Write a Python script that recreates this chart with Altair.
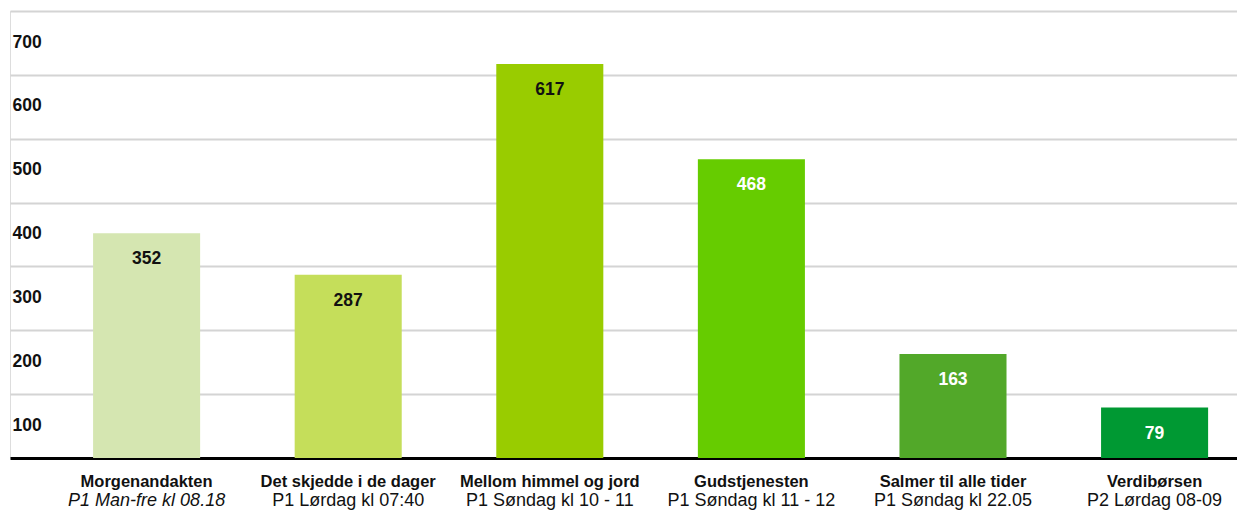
import altair as alt
import pandas as pd

names = ["Morgenandakten", "Det skjedde i de dager", "Mellom himmel og jord",
         "Gudstjenesten", "Salmer til alle tider", "Verdibørsen"]
subtitles = ["P1 Man-fre kl 08.18", "P1 Lørdag kl 07:40", "P1 Søndag kl 10 - 11",
             "P1 Søndag kl 11 - 12", "P1 Søndag kl 22.05", "P2 Lørdag 08-09"]
values = [352, 287, 617, 468, 163, 79]
bar_colors = ["#d5e6b1", "#c5de5a", "#99cc00", "#66cc00", "#52a829", "#009933"]
label_colors = ["#111111", "#111111", "#111111", "#ffffff", "#ffffff", "#ffffff"]
italic = [True, False, False, False, False, False]
y_ticks = [100, 200, 300, 400, 500, 600, 700]

df = pd.DataFrame({
    "name": names, "sub": subtitles, "value": values,
    "color": bar_colors, "lcolor": label_colors, "italic": italic,
})

W, H = 1227, 447
FONT = "Liberation Sans"

x = alt.X("name:N", sort=names,
          scale=alt.Scale(paddingInner=0.469, paddingOuter=0.2777, align=0.742),
          axis=alt.Axis(title=None, labels=False, ticks=False, domain=True,
                        domainColor="#000000", domainWidth=3, grid=False))
y = alt.Y("value:Q", scale=alt.Scale(domain=[0, 700], nice=False),
          axis=alt.Axis(title=None, values=y_ticks, grid=True, gridColor="#d4d4d4",
                        gridWidth=2, domain=False, ticks=False, labelAlign="left",
                        labelPadding=-2, labelOffset=31, labelFont=FONT,
                        labelFontSize=17.5, labelFontWeight="bold", labelColor="#111111",
                        labelBaseline="middle"))

base = alt.Chart(df)
bars = base.mark_bar().encode(x=x, y=y, color=alt.Color("color:N", scale=None))
vals = base.mark_text(font=FONT, fontSize=17.5, fontWeight="bold", baseline="middle", dy=26).encode(
    x=alt.X("name:N", sort=names), y="value:Q", text="value:Q",
    color=alt.Color("lcolor:N", scale=None))
title_txt = base.mark_text(font=FONT, fontSize=16.5, fontWeight="bold", baseline="middle").encode(
    x=alt.X("name:N", sort=names), y=alt.value(H + 24), text="name:N",
    color=alt.value("#111111"))
sub_norm = base.transform_filter("!datum.italic").mark_text(
    font=FONT, fontSize=18, baseline="middle").encode(
    x=alt.X("name:N", sort=names), y=alt.value(H + 43), text="sub:N",
    color=alt.value("#111111"))
sub_it = base.transform_filter("datum.italic").mark_text(
    font=FONT, fontSize=18, fontStyle="italic", baseline="middle").encode(
    x=alt.X("name:N", sort=names), y=alt.value(H + 43), text="sub:N",
    color=alt.value("#111111"))

chart = alt.layer(bars, vals, title_txt, sub_norm, sub_it).properties(
    width=W, height=H,
    autosize=alt.AutoSizeParams(type="none"),
    padding={"left": 2, "top": 3, "right": 0, "bottom": 52},
).configure_view(stroke="transparent", strokeWidth=0).configure_axisY(
    domain=False, ticks=False
).configure(background="#ffffff")

chart.save("out.html", embed_options={"renderer": "svg", "actions": False})
